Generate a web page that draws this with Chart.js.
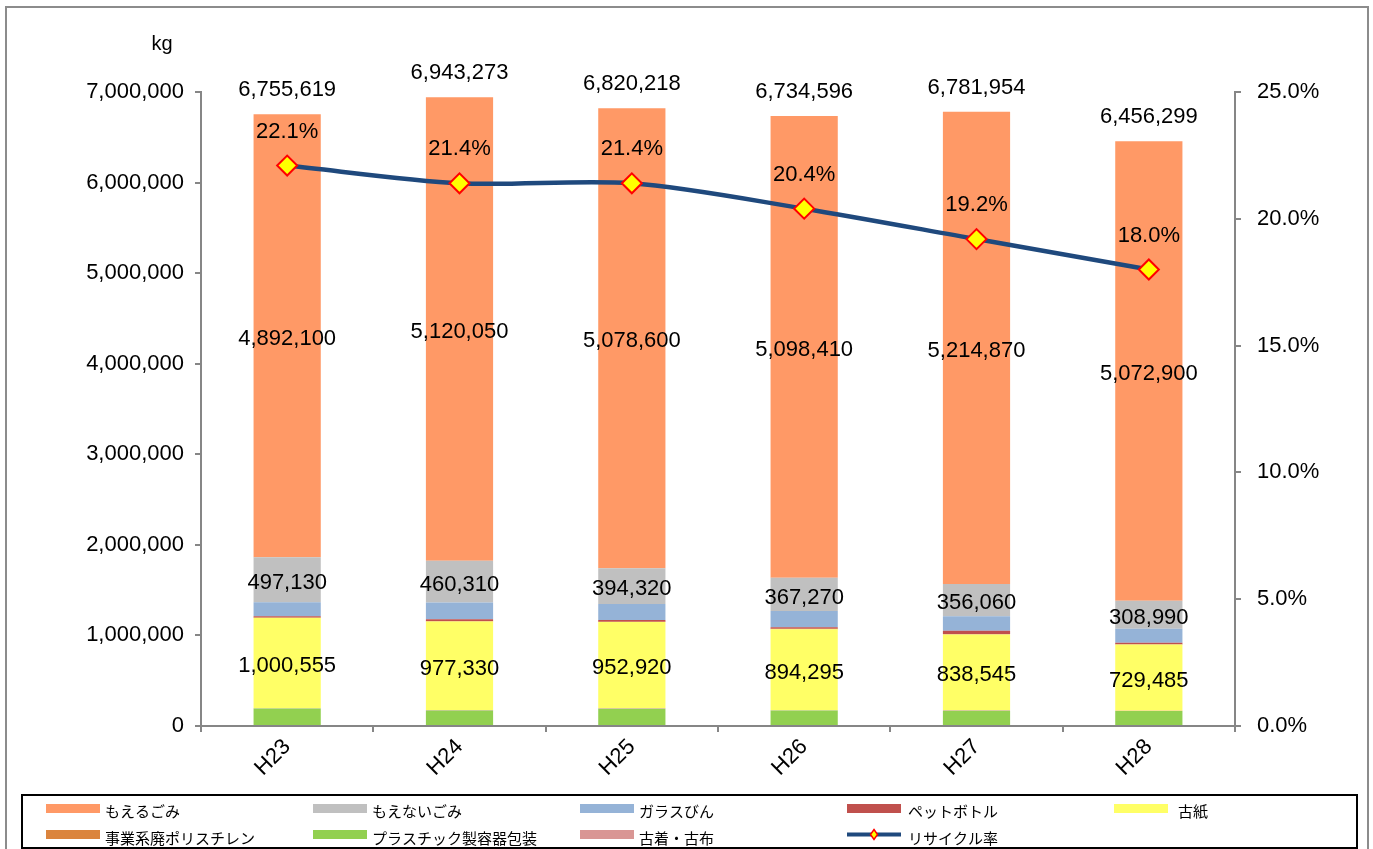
<!DOCTYPE html>
<html><head><meta charset="utf-8">
<script src="https://cdn.jsdelivr.net/npm/chart.js@4/dist/chart.umd.min.js"></script>
<style>html,body{margin:0;padding:0;background:#fff;}#wrap{position:relative;width:1373px;height:849px;}</style>
</head><body><div id="wrap"><canvas id="c" width="1373" height="849"></canvas></div>
<script>
const categories = ['H23','H24','H25','H26','H27','H28'];
const moeru   = [4892100,5120050,5078600,5098410,5214870,5072900];
const moenai  = [497130,460310,394320,367270,356060,308990];
const garasu  = [155000,183000,178000,178000,158000,155000];
const petto   = [15000,21000,18000,18000,40000,20000];
const koshi   = [1000555,977330,952920,894295,838545,729485];
const jigyo   = [834,4583,3378,3621,1479,924];
const pura    = [192000,172000,190000,170000,168000,165000];
const furugi  = [3000,5000,5000,5000,5000,4000];
const totals  = [6755619,6943273,6820218,6734596,6781954,6456299];
const rate    = [22.1,21.4,21.4,20.4,19.2,18.0];
const legendOrder = ['もえるごみ','もえないごみ','ガラスびん','ペットボトル','古紙','事業系廃ポリスチレン','プラスチック製容器包装','古着・古布','リサイクル率'];

const FONT = '"Liberation Sans", Arial, sans-serif';
const fmt = v => v.toLocaleString('en-US');

const bar = (label, data, color) => ({type:'bar', label, data, backgroundColor:color, borderWidth:0, yAxisID:'y', order:1, barPercentage:0.39, categoryPercentage:1});

const datasets = [
  bar('プラスチック製容器包装', pura, '#92D050'),
  bar('古着・古布', furugi, '#D99694'),
  bar('古紙', koshi, '#FFFF66'),
  bar('事業系廃ポリスチレン', jigyo, '#DB843D'),
  bar('ペットボトル', petto, '#C0504D'),
  bar('ガラスびん', garasu, '#95B3D7'),
  bar('もえないごみ', moenai, '#C0C0C0'),
  bar('もえるごみ', moeru, '#FF9966'),
  {type:'line', label:'リサイクル率', data:rate, yAxisID:'y2', order:0,
   borderColor:'#1F497D', borderWidth:4.5, tension:0.3, fill:false,
   pointStyle:'rectRot', pointRadius:10, pointHoverRadius:10,
   pointBackgroundColor:'#FFFF00', pointBorderColor:'#FF0000', pointBorderWidth:2}
];
const idx = l => datasets.findIndex(d => d.label === l);

const decor = {
  id:'decor',
  beforeDraw(chart){
    const c = chart.ctx;
    c.save();
    c.fillStyle = '#fff'; c.fillRect(0,0,chart.width,chart.height);
    c.strokeStyle = '#8c8c8c'; c.lineWidth = 2;
    c.strokeRect(6,7,1362,900);
    c.restore();
  },
  afterDatasetsDraw(chart){
    const c = chart.ctx;
    c.save();
    c.font = '22px ' + FONT; c.fillStyle = '#000';
    c.textAlign = 'center'; c.textBaseline = 'middle';
    ['もえるごみ','もえないごみ','古紙'].forEach(l => {
      const di = idx(l);
      chart.getDatasetMeta(di).data.forEach((el,i) => {
        c.fillText(fmt(datasets[di].data[i]), el.x, (el.y + el.base)/2 + 3);
      });
    });
    chart.getDatasetMeta(idx('もえるごみ')).data.forEach((el,i) => {
      c.fillText(fmt(totals[i]), el.x, el.y - 24);
    });
    chart.getDatasetMeta(idx('リサイクル率')).data.forEach((pt,i) => {
      c.fillText(rate[i].toFixed(1) + '%', pt.x, pt.y - 34);
    });
    c.restore();
  },
  afterDraw(chart){
    const c = chart.ctx;
    c.save();
    c.font = '20px ' + FONT; c.fillStyle = '#000';
    c.textAlign = 'center'; c.textBaseline = 'middle';
    c.fillText('kg', 162, 44);
    c.strokeStyle = '#000'; c.lineWidth = 2;
    c.strokeRect(22, 795, 1335, 53);
    const swX = [46, 313, 580, 847, 1114];
    const txX = [105, 372, 639, 908, 1178];
    const swY = [804, 830];
    const txY = [811, 838];
    c.font = '15px "Noto Sans CJK JP", sans-serif';
    c.textAlign = 'left';
    legendOrder.forEach((l,k) => {
      const col = k % 5, row = Math.floor(k / 5);
      const ds = datasets[idx(l)];
      if (ds.type === 'line') {
        const y = swY[row] + 4.5;
        c.strokeStyle = ds.borderColor; c.lineWidth = 4;
        c.beginPath(); c.moveTo(swX[col], y); c.lineTo(swX[col] + 54, y); c.stroke();
        const cx = swX[col] + 27, r = 5;
        c.beginPath(); c.moveTo(cx, y - r); c.lineTo(cx + r*0.7, y); c.lineTo(cx, y + r); c.lineTo(cx - r*0.7, y); c.closePath();
        c.fillStyle = ds.pointBackgroundColor; c.fill();
        c.strokeStyle = ds.pointBorderColor; c.lineWidth = 1.5; c.stroke();
      } else {
        c.fillStyle = ds.backgroundColor;
        c.fillRect(swX[col], swY[row], 54, 9);
      }
      c.fillStyle = '#000';
      c.fillText(l, txX[col], txY[row]);
    });
    c.restore();
  }
};

const axisColor = '#868686';
new Chart(document.getElementById('c'), {
  data:{labels:categories, datasets},
  options:{
    responsive:false, animation:false, devicePixelRatio:1,
    layout:{padding:{top:92, left:0, right:0, bottom:0}},
    plugins:{legend:{display:false}, tooltip:{enabled:false}},
    scales:{
      x:{stacked:true, offset:true,
         grid:{offset:true, drawOnChartArea:false, drawTicks:true, tickLength:6, color:axisColor, lineWidth:2},
         border:{color:axisColor, width:2},
         ticks:{font:{family:FONT, size:22}, color:'#000', minRotation:45, maxRotation:45, padding:2},
         afterFit(s){ s.height = 123; }},
      y:{stacked:true, position:'left', min:0, max:7000000,
         grid:{drawOnChartArea:false, tickLength:6, color:axisColor, lineWidth:2},
         border:{color:axisColor, width:2},
         ticks:{stepSize:1000000, font:{family:FONT, size:22}, color:'#000', padding:11, callback:v => fmt(v)},
         afterFit(s){ s.width = 201; }},
      y2:{position:'right', min:0, max:25,
         grid:{drawOnChartArea:false, tickLength:6, color:axisColor, lineWidth:2},
         border:{color:axisColor, width:2},
         ticks:{stepSize:5, font:{family:FONT, size:22}, color:'#000', padding:16, callback:v => v.toFixed(1) + '%'},
         afterFit(s){ s.width = 138; }}
    }
  },
  plugins:[decor]
});
</script></body></html>
